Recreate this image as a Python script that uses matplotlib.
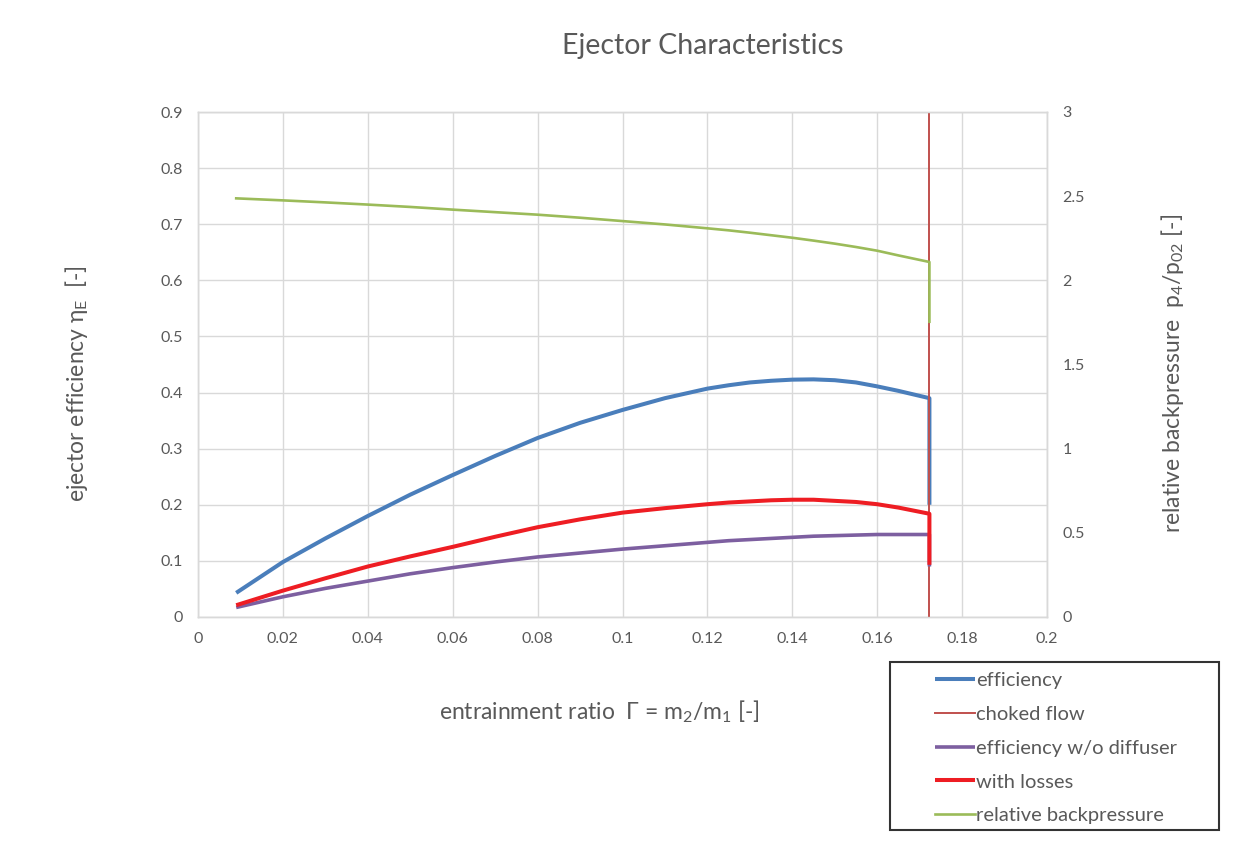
import matplotlib
matplotlib.use("Agg")
import matplotlib.pyplot as plt
from matplotlib.ticker import FuncFormatter
from matplotlib.patches import Rectangle

plt.rcParams['font.family'] = ['Lato', 'DejaVu Sans']
plt.rcParams['mathtext.default'] = 'regular'

# ---------------- data ----------------
gamma = [0.009, 0.02, 0.03, 0.04, 0.05, 0.06, 0.07, 0.08, 0.09, 0.10,
         0.11, 0.12, 0.125, 0.13, 0.135, 0.14, 0.145, 0.15, 0.155, 0.16, 0.165,
         0.1723, 0.1723]

efficiency = [0.043, 0.098, 0.140, 0.180, 0.218, 0.253, 0.287, 0.319, 0.346, 0.369,
              0.390, 0.407, 0.413, 0.418, 0.421, 0.423, 0.4235, 0.422, 0.418, 0.411, 0.403,
              0.390, 0.200]

eff_no_diffuser = [0.017, 0.036, 0.051, 0.064, 0.077, 0.088, 0.098, 0.107, 0.114, 0.121,
                   0.127, 0.133, 0.136, 0.138, 0.140, 0.142, 0.144, 0.145, 0.146, 0.147, 0.147,
                   0.147, 0.090]

with_losses = [0.021, 0.047, 0.069, 0.090, 0.108, 0.125, 0.143, 0.160, 0.174, 0.186,
               0.194, 0.201, 0.204, 0.206, 0.208, 0.209, 0.209, 0.207, 0.205, 0.201, 0.195,
               0.184, 0.093]

backpressure = [2.487, 2.475, 2.463, 2.450, 2.436, 2.420, 2.405, 2.390, 2.372, 2.352,
                2.332, 2.309, 2.297, 2.283, 2.268, 2.253, 2.236, 2.218, 2.198, 2.176, 2.148,
                2.109, 1.754]

choked_gamma = [0.1723, 0.1723]
choked_eff = [0.0, 0.9]

x_ticks = [0, 0.02, 0.04, 0.06, 0.08, 0.1, 0.12, 0.14, 0.16, 0.18, 0.2]
left_ticks = [0, 0.1, 0.2, 0.3, 0.4, 0.5, 0.6, 0.7, 0.8, 0.9]
right_ticks = [0, 0.5, 1, 1.5, 2, 2.5, 3]

# ---------------- figure ----------------
W, H = 1241, 844
fig = plt.figure(figsize=(W / 100, H / 100), dpi=100)
fig.patch.set_facecolor('white')

def fx(px):
    return px / W

def fy(py):
    return 1 - py / H

ax = fig.add_axes([fx(198), fy(617), fx(1047) - fx(198), fy(112) - fy(617)])
ax2 = ax.twinx()

TXT = '#595959'
GRID = '#D9D9D9'

l_eff, = ax.plot(gamma, efficiency, color='#4A7EBB', lw=2.9, solid_capstyle='butt',
                 solid_joinstyle='round', label='efficiency', zorder=3)
l_ch, = ax.plot(choked_gamma, choked_eff, color='#C0504D', lw=1.4,
                label='choked flow', zorder=4)
l_nd, = ax.plot(gamma, eff_no_diffuser, color='#7D5FA0', lw=2.6, solid_capstyle='butt',
                solid_joinstyle='round', label='efficiency w/o diffuser', zorder=5)
l_wl, = ax.plot(gamma, with_losses, color='#EE1D23', lw=2.9, solid_capstyle='butt',
                solid_joinstyle='round', label='with losses', zorder=6)
l_bp, = ax2.plot(gamma, backpressure, color='#9BBB59', lw=1.9,
                 solid_joinstyle='round', label='relative backpressure', zorder=7)

ax.set_xlim(0, 0.2)
ax.set_ylim(0, 0.9)
ax2.set_ylim(0, 3)
ax.set_xticks(x_ticks)
ax.set_yticks(left_ticks)
ax2.set_yticks(right_ticks)

fmt = FuncFormatter(lambda v, p: '{:g}'.format(round(v, 4)))
ax.xaxis.set_major_formatter(fmt)
ax.yaxis.set_major_formatter(fmt)
ax2.yaxis.set_major_formatter(fmt)

ax.grid(True, color=GRID, lw=1.0, zorder=0)
ax.set_axisbelow(True)
for a in (ax, ax2):
    for s in a.spines.values():
        s.set_color(GRID)
        s.set_linewidth(1.0)
    a.tick_params(length=0, colors=TXT, labelsize=11.5)
ax.tick_params(axis='y', pad=11)
ax.tick_params(axis='x', pad=11)
ax2.tick_params(axis='y', pad=11)

# titles / labels
fig.text(fx(703), fy(46), 'Ejector Characteristics', ha='center', va='center',
         fontsize=20.5, color=TXT)
fig.text(fx(599), fy(712), r'entrainment ratio  Γ = m$_2$/m$_1$ [-]', ha='center',
         va='center', fontsize=16.5, color=TXT)
fig.text(fx(76), fy(384), r'ejector efficiency η$_E$  [-]', ha='center', va='center',
         rotation=90, fontsize=16.5, color=TXT)
fig.text(fx(1172), fy(373), r'relative backpressure  p$_4$/p$_{02}$ [-]', ha='center',
         va='center', rotation=90, fontsize=16.5, color=TXT)

# legend
fig.patches.append(Rectangle((fx(890), fy(830)), fx(1219) - fx(890), fy(662) - fy(830),
                             transform=fig.transFigure, fill=False, edgecolor='#333333',
                             lw=1.5, zorder=1))
leg = fig.legend(handles=[l_eff, l_ch, l_nd, l_wl, l_bp], loc='upper left',
                 bbox_to_anchor=(fx(935), fy(672)), frameon=False, fontsize=14.5,
                 handlelength=2.0, handletextpad=0.05, labelspacing=0.83,
                 borderpad=0, borderaxespad=0)
for t in leg.get_texts():
    t.set_color(TXT)

fig.savefig('out.png', dpi=100)
